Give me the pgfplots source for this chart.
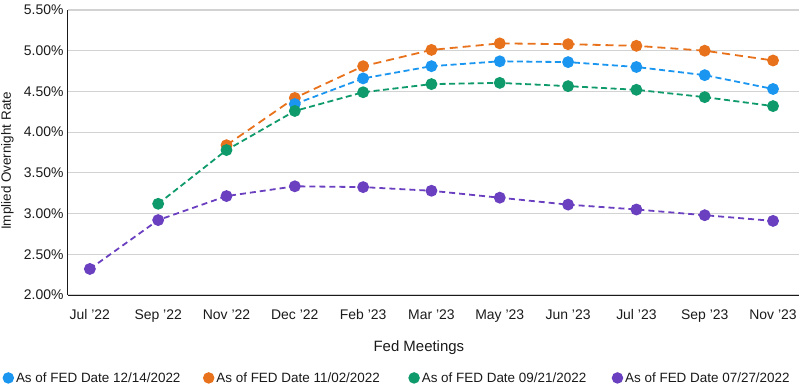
\documentclass[border=0pt]{standalone}
\usepackage{fontspec}
\setmainfont{Liberation Sans}
\usepackage{pgfplots}
\pgfplotsset{compat=1.18}
\definecolor{cblue}{HTML}{1A96F0}
\definecolor{corange}{HTML}{E8711C}
\definecolor{cgreen}{HTML}{0E9A6B}
\definecolor{cpurple}{HTML}{6B40C0}
\definecolor{cgrid}{HTML}{D2D2D2}
\definecolor{ctext}{HTML}{1A1A1A}
\begin{document}
\begin{tikzpicture}
\begin{axis}[
  scale only axis, width=731bp, height=285bp,
  xmin=-0.32, xmax=10.38, ymin=2, ymax=5.5,
  xtick={0,1,2,3,4,5,6,7,8,9,10},
  xticklabels={Jul ’22,Sep ’22,Nov ’22,Dec ’22,Feb ’23,Mar ’23,May ’23,Jun ’23,Jul ’23,Sep ’23,Nov ’23},
  ytick={2,2.5,3,3.5,4,4.5,5,5.5},
  yticklabel={\pgfmathprintnumber[fixed,fixed zerofill,precision=2]{\tick}\%},
  /pgf/number format/assume math mode=true,
  ymajorgrids, major grid style={cgrid, line width=1.2bp},
  axis x line*=bottom, axis y line*=left,
  axis line style={-, ctext, line width=1bp},
  major tick length=0pt,
  tick label style={font=\fontsize{14}{16}\selectfont, text=ctext},
  yticklabel style={xshift=-1bp},
  xticklabel style={yshift=-11bp},
  xlabel={Fed Meetings}, ylabel={Implied Overnight Rate},
  label style={font=\fontsize{13.5}{15}\selectfont, text=ctext},
  xlabel style={at={(axis description cs:0.48,-0.184)}, anchor=center, font=\fontsize{15}{17}\selectfont},
  ylabel style={at={(axis description cs:-0.083,0.47)}, anchor=center},
  legend columns=4,
  legend image code/.code={\fill[#1] (0bp,0bp) circle (4.8bp);},
  legend style={at={(axis description cs:-0.0897,-0.291)}, anchor=west, draw=none, fill=none,
    inner sep=0pt, font=\fontsize{13.5}{15}\selectfont, text=ctext,
    /tikz/every even column/.append style={column sep=0bp}},
  every axis plot/.append style={line width=1.8bp, mark=*, mark size=5bp, mark options={solid}},
]
\addlegendimage{color=cblue}
\addlegendentry{\makebox[185bp][l]{As of FED Date 12/14/2022}}
\addlegendimage{color=corange}
\addlegendentry{\makebox[190bp][l]{As of FED Date 11/02/2022}}
\addlegendimage{color=cgreen}
\addlegendentry{\makebox[188bp][l]{As of FED Date 09/21/2022}}
\addlegendimage{color=cpurple}
\addlegendentry{As of FED Date 07/27/2022}

\addplot[forget plot, color=corange, dash pattern=on 8bp off 5bp] coordinates {
 (2,3.84) (3,4.42) (4,4.81) (5,5.01) (6,5.09) (7,5.08) (8,5.06) (9,5.00) (10,4.88)};
\addplot[forget plot, color=cblue, dash pattern=on 6bp off 3.5bp] coordinates {
 (3,4.345) (4,4.66) (5,4.81) (6,4.87) (7,4.86) (8,4.80) (9,4.70) (10,4.53)};
\addplot[forget plot, color=cgreen, dash pattern=on 6bp off 3.5bp] coordinates {
 (1,3.12) (2,3.78) (3,4.26) (4,4.49) (5,4.59) (6,4.605) (7,4.565) (8,4.52) (9,4.43) (10,4.32)};
\addplot[forget plot, color=cpurple, dash pattern=on 6bp off 4bp] coordinates {
 (0,2.32) (1,2.92) (2,3.215) (3,3.335) (4,3.325) (5,3.28) (6,3.195) (7,3.11) (8,3.05) (9,2.98) (10,2.91)};
\end{axis}
\pgfresetboundingbox
\path ([xshift=-68bp,yshift=-90bp]current axis.south west) rectangle ++(801bp,385bp);
\end{tikzpicture}
\end{document}
